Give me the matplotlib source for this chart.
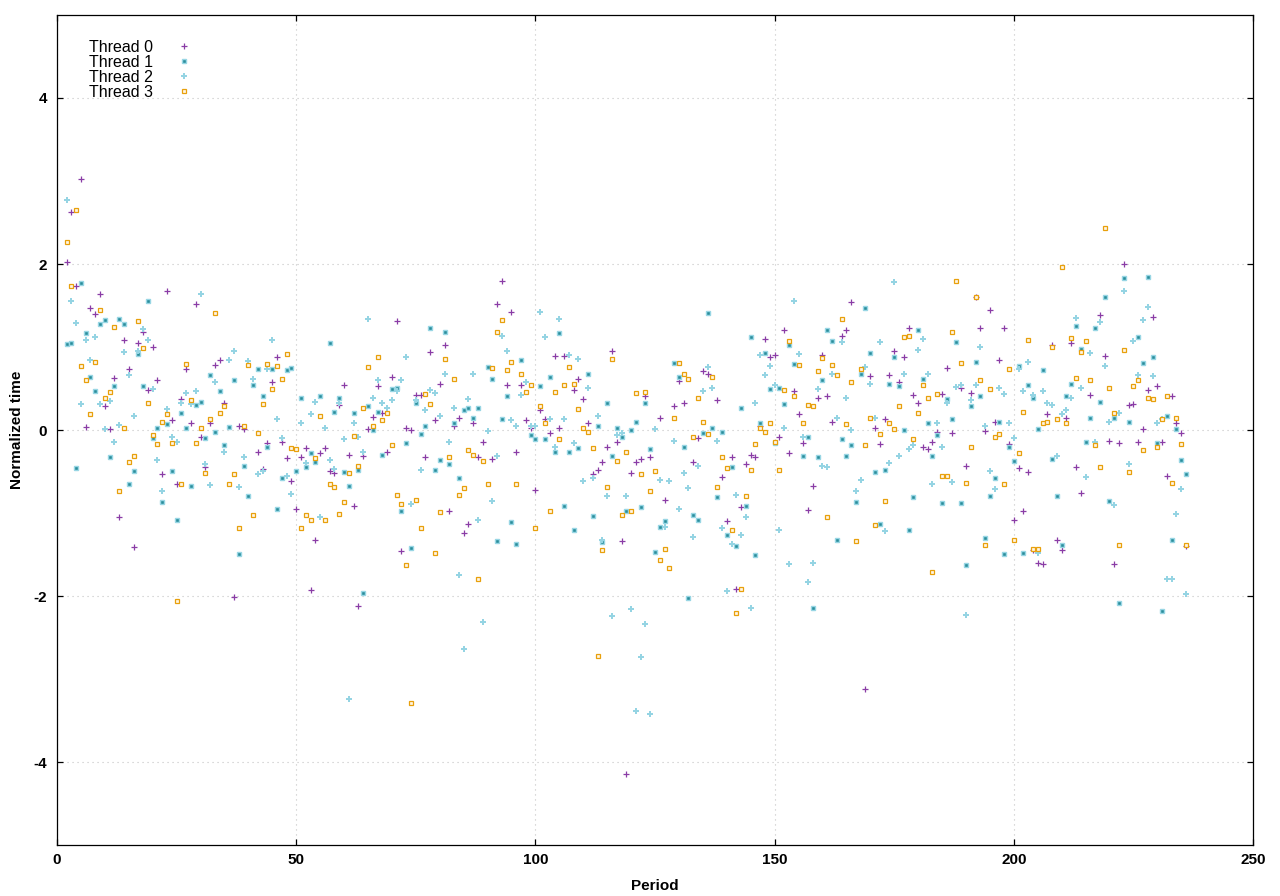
import numpy as np
import matplotlib
matplotlib.use("Agg")
import matplotlib.pyplot as plt

nan = np.nan

# ---------------- data ----------------
periods = list(range(2, 237))
thread_labels = ["Thread 0", "Thread 1", "Thread 2", "Thread 3"]

thread0 = [
    2.03, 2.63, 1.73, 3.03, 0.04, 1.47, 1.40, 1.64, 0.29, 0.01,
    0.63, -1.05, 1.09, 0.74, -1.41, 1.05, 1.18, 0.48, 1.00, 0.60,
    -0.53, 1.67, 0.12, -0.65, 0.37, 0.74, 0.08, 1.52, -0.08, -0.44,
    0.09, 0.78, 0.84, 0.33, nan, -2.01, 0.05, 0.01, nan, nan,
    -0.26, -0.47, -0.16, 0.58, 0.88, -0.15, -0.34, -0.62, -0.95, -0.33,
    -0.22, -1.93, -1.32, -0.28, -0.22, -0.50, -0.52, 0.30, 0.54, -0.30,
    -0.91, -2.12, -0.31, 0.01, 0.16, 0.53, 0.21, -0.27, 0.64, 1.31,
    -1.46, 0.02, -0.00, 0.42, 0.42, -0.33, 0.94, 0.12, 0.55, 1.02,
    -0.98, 0.05, 0.15, -1.24, -1.13, 0.09, -0.32, -0.14, nan, -0.35,
    1.52, 1.80, 0.54, 1.42, -0.26, 0.54, 0.12, 0.03, -0.72, 0.24,
    0.13, -0.04, 0.89, 0.02, 0.89, nan, 0.48, 0.61, 0.37, 0.09,
    -0.53, -0.48, -0.39, -0.21, 0.95, -0.14, -1.34, -4.15, -0.52, -0.38,
    -0.35, 0.41, -0.33, nan, 0.14, -0.84, nan, 0.29, 0.59, 0.33,
    nan, -0.38, -0.10, 0.71, 0.67, nan, 0.36, -0.57, -1.10, -0.33,
    -1.91, -0.93, -0.41, -0.30, -0.32, 0.05, 1.10, 0.88, 0.90, -0.08,
    1.20, -0.28, 0.47, 0.19, -0.16, -0.96, -0.68, 0.38, 0.90, 0.41,
    0.10, nan, 1.13, 1.20, 1.54, nan, nan, -3.12, 0.65, 0.02,
    -0.17, 0.13, 0.66, 0.95, 0.58, 0.88, 1.23, 0.42, 0.32, -0.21,
    -0.23, -0.15, -0.03, 0.43, 0.75, -0.04, nan, 0.51, -0.43, 0.44,
    1.60, 1.23, -0.01, 1.45, 0.10, 0.84, 1.23, -0.17, -1.09, -0.46,
    -0.97, -0.51, -1.45, -1.60, -1.61, 0.19, 1.02, -1.32, -1.45, 0.15,
    1.05, -0.44, -0.76, nan, 0.42, nan, 1.39, 0.89, -0.13, -1.62,
    -0.16, 2.00, 0.30, 0.31, -0.15, 0.01, 0.48, 1.36, 0.53, -0.14,
    -0.56, 0.41, 0.08, -0.04, -1.40,
]

thread1 = [
    1.04, 1.05, -0.46, 1.77, 1.17, 0.64, 0.47, 1.28, 1.33, -0.32,
    0.53, 1.34, 1.28, -0.65, -0.50, 0.92, 0.53, 1.55, -0.10, 0.03,
    -0.87, 0.07, -0.49, -1.08, 0.20, 0.02, -0.68, 0.30, 0.34, -0.10,
    0.66, -0.03, 0.47, -0.18, 0.04, 0.60, -1.49, -0.43, -0.80, 0.54,
    0.73, 0.41, -0.21, 0.74, -0.95, -0.58, 0.72, 0.75, -0.50, 0.38,
    -0.45, -0.28, -0.38, 0.41, nan, 1.05, 0.22, 0.38, -0.51, -0.68,
    0.21, -0.48, -1.96, 0.29, -0.00, 0.22, -0.30, nan, 0.49, 0.51,
    -0.98, -0.16, -1.42, 0.32, -0.05, 0.05, 1.23, -0.48, -0.36, 1.18,
    -0.41, 0.08, -0.58, 0.24, 0.27, 0.15, 0.26, nan, 0.76, 0.61,
    -1.34, 0.13, 0.41, -1.11, -1.37, 0.84, nan, -0.06, -0.11, 0.53,
    -0.11, 0.64, -0.27, 1.17, -0.92, -0.27, -1.21, -0.22, nan, 0.68,
    -1.04, 0.05, -1.35, 0.33, -0.31, 0.02, -0.08, -0.97, -0.00, 0.10,
    -0.93, 0.33, -0.23, -1.47, -1.17, -1.10, nan, 0.81, 0.64, -0.21,
    -2.03, -1.02, -1.08, -0.04, 1.41, 0.03, -0.81, -0.02, -1.27, -0.44,
    -1.40, 0.26, -0.92, 1.12, -1.51, 0.08, 0.93, 0.49, -0.16, 0.51,
    0.31, 1.02, 0.80, nan, -0.31, -0.09, -2.14, -0.32, 0.60, 1.20,
    1.07, -1.33, -0.11, -0.31, -0.18, -0.87, 0.67, 1.47, 0.93, -0.51,
    -1.13, -0.48, 0.55, 0.88, 0.53, -0.00, -1.20, -0.81, 1.20, 0.61,
    0.08, -0.31, -0.06, -0.88, 0.37, 0.13, 1.06, -0.88, -1.63, 0.29,
    0.82, 0.41, -1.30, -0.80, -0.58, 0.10, -1.49, -0.21, -0.37, 0.77,
    -1.48, 0.54, 0.39, 0.01, 0.72, nan, -0.35, -0.80, -1.39, 0.41,
    0.56, 1.25, 0.98, -0.14, 0.14, 1.23, 0.34, 1.60, -0.86, 0.14,
    -2.08, 1.83, 0.10, nan, 1.12, 0.81, 1.84, 0.88, -0.16, -2.18,
    0.17, -1.32, 0.01, -0.36, -0.53,
]

thread2 = [
    2.77, 1.55, 1.29, 0.31, 1.09, 0.84, 1.12, 0.31, 0.01, 0.35,
    -0.14, 0.06, 0.94, 0.66, 0.17, 0.95, 1.22, 1.09, 0.49, -0.36,
    -0.74, 0.25, -0.08, -0.14, 0.33, 0.45, 0.31, 0.47, 1.64, -0.41,
    -0.66, 0.58, nan, -0.26, 0.84, 0.95, -0.69, -0.32, 0.83, 0.62,
    -0.53, -0.50, 0.73, 1.08, 0.13, -0.10, -0.55, -0.77, nan, 0.08,
    -0.40, 0.19, 0.34, -1.05, 0.03, -0.36, -0.47, 0.32, -0.11, -3.24,
    0.09, -0.09, -0.27, 1.34, 0.38, 0.60, 0.32, 0.26, 0.36, 0.47,
    0.60, 0.88, -0.89, 0.36, -0.48, 0.24, 0.48, 0.44, 0.17, 0.67,
    -0.15, 0.26, -1.75, -2.64, 0.37, 0.68, -1.08, -2.31, -0.01, -0.85,
    -0.31, 1.13, 0.95, 0.12, 0.05, 0.42, 0.58, 0.05, 0.05, 1.42,
    1.12, 0.13, -0.20, 1.34, 0.13, 0.90, -0.16, 0.85, -0.62, 0.51,
    -0.58, 0.17, -1.32, -0.80, -2.24, -0.06, -0.04, -0.80, -2.16, -3.39,
    -2.73, -2.34, -3.42, 0.01, -0.60, -1.17, -0.62, -0.13, -0.95, -0.52,
    -0.70, -1.29, -0.43, 0.47, 0.76, 0.51, -0.13, -1.18, -1.94, -1.37,
    -0.78, -1.27, -1.05, -2.14, 0.32, 0.90, 0.66, 0.77, 0.54, -1.21,
    0.03, -1.61, 1.55, 0.92, -0.08, -1.83, -1.60, 0.49, -0.43, -0.45,
    0.67, 0.14, 1.06, 0.39, -0.00, -0.74, -0.60, 0.76, 0.56, 0.14,
    1.06, -1.22, -0.40, 1.78, -0.31, 0.67, -0.23, -0.18, 0.96, 1.10,
    0.67, -0.65, 0.09, -0.20, 0.32, -0.63, 0.52, 0.54, -2.23, 0.36,
    0.54, 1.00, 0.05, -0.49, -0.71, 0.51, 0.43, 0.08, -0.10, 0.73,
    0.47, 0.82, 0.42, -1.48, 0.47, 0.32, 0.30, -0.31, 0.19, 0.24,
    0.39, 1.35, 0.50, -0.57, 0.93, -0.14, 1.30, 0.77, 0.10, -0.90,
    0.21, 1.68, -0.41, 1.07, 0.66, 1.32, 1.48, 0.65, 0.08, 0.13,
    -1.80, -1.80, -1.01, -0.71, -1.97,
]

thread3 = [
    2.27, 1.74, 2.65, 0.77, 0.60, 0.19, 0.82, 1.45, 0.38, 0.46,
    1.24, -0.73, 0.03, -0.39, -0.31, 1.31, 0.99, 0.32, -0.06, -0.17,
    0.10, 0.19, -0.16, -2.06, -0.65, 0.79, 0.36, -0.16, 0.03, -0.52,
    0.13, 1.41, 0.20, 0.29, -0.65, -0.53, -1.18, 0.05, 0.78, -1.03,
    -0.04, 0.31, 0.79, 0.49, 0.77, 0.61, 0.91, -0.22, -0.23, -1.18,
    -1.03, -1.08, -0.34, 0.17, -1.08, -0.65, -0.69, -1.01, -0.87, -0.52,
    -0.07, -0.43, 0.26, 0.76, 0.05, 0.88, 0.12, 0.21, -0.18, -0.78,
    -0.89, -1.63, -3.29, -0.84, -1.18, 0.43, 0.31, -1.48, -0.99, 0.85,
    -0.32, 0.61, -0.78, -0.70, -0.24, -0.30, -1.80, -0.37, -0.65, 0.75,
    1.18, 1.32, 0.72, 0.82, -0.65, 0.68, 0.46, 0.54, -1.18, 0.29,
    0.09, -0.97, 0.46, -0.11, 0.54, 0.76, 0.55, 0.25, 0.02, -0.03,
    -0.22, -2.72, -1.45, -0.69, 0.85, -0.37, -1.02, -0.26, -0.98, 0.44,
    -0.53, 0.46, -0.74, -0.50, -1.57, -1.43, -1.66, 0.15, 0.81, 0.67,
    0.61, -0.09, 0.38, 0.10, -0.05, 0.64, -0.69, -0.32, -0.46, -1.20,
    -2.21, -1.91, -0.79, -0.48, -0.17, 0.02, -0.03, 0.09, -0.15, -0.48,
    0.48, 1.07, 0.41, 0.78, 0.08, 0.30, 0.29, 0.71, 0.87, -1.05,
    0.78, 0.66, 1.34, 0.07, 0.58, -1.34, 0.73, -0.18, 0.15, -1.15,
    -0.05, -0.85, 0.08, 0.01, 0.29, 1.12, 1.13, -0.11, 0.21, 0.54,
    0.39, -1.71, 0.43, -0.56, -0.55, 1.18, 1.79, 0.81, -0.64, -0.21,
    1.60, 0.60, -1.39, 0.49, -0.08, -0.05, -0.65, 0.73, -1.33, -0.28,
    0.22, 1.08, -1.43, -1.43, 0.08, 0.10, 1.00, 0.13, 1.96, 0.08,
    1.11, 0.63, 0.94, 1.07, 0.60, -0.18, -0.44, 2.43, 0.50, 0.20,
    -1.38, 0.96, -0.51, 0.53, 0.60, -0.24, 0.38, 0.37, -0.20, 0.13,
    0.41, -0.64, 0.14, -0.17, -1.38,
]

xticks = [0, 50, 100, 150, 200, 250]
yticks = [-4, -2, 0, 2, 4]
x_label = "Period"
y_label = "Normalized time"

# ---------------- figure ----------------
plt.rcParams['font.family'] = ['Liberation Sans', 'DejaVu Sans']
plt.rcParams['axes.unicode_minus'] = False
W, H = 1280, 896
fig = plt.figure(figsize=(W / 100, H / 100), dpi=100)
L, R, T, B = 57, 1253, 15, 845
ax = fig.add_axes([L / W, 1 - B / H, (R - L) / W, (B - T) / H])

styles = [
    dict(marker='+', ms=4.5, mew=0.9, color='#8a3ca6'),
    dict(marker='s', ms=3.0, mew=1.0, mfc='#2a8d9b', mec='#98d6e4'),
    dict(marker='P', ms=4.2, mew=0.0, mfc='#95d4e3', mec='#95d4e3'),
    dict(marker='s', ms=3.4, mew=0.9, mfc='#fff6e6', mec='#e8a00c'),
]
series = [thread0, thread1, thread2, thread3]
handles = []
for vals, lab, st in zip(series, thread_labels, styles):
    h, = ax.plot(periods, vals, ls='none', label=lab, zorder=3, **st)
    handles.append(h)

ax.set_xlim(0, 250)
ax.set_ylim(-5, 5)
ax.set_xticks(xticks)
ax.set_yticks(yticks)
ax.grid(True, color='#c4c4c4', lw=0.8, ls=(0, (1, 3.5)), zorder=0)
ax.tick_params(direction='in', length=4.5, width=0.9, top=True, right=True,
               labelsize=11)
ax.tick_params(axis='x', pad=6)
ax.tick_params(axis='y', pad=7)
for lbl in ax.get_xticklabels() + ax.get_yticklabels():
    lbl.set_fontweight('bold')
for sp in ax.spines.values():
    sp.set_linewidth(0.9)

fig.text(655 / W, 1 - 886 / H, x_label, ha='center', va='center',
         fontsize=11, fontweight='bold')
fig.text(17 / W, 1 - 430 / H, y_label, ha='center', va='center',
         rotation=90, fontsize=11, fontweight='bold')

leg = ax.legend(handles=handles, loc='upper left',
                bbox_to_anchor=(89 / W, 1 - 40 / H),
                bbox_transform=fig.transFigure,
                markerfirst=False, frameon=False, fontsize=11.5,
                labelspacing=0.0, handlelength=1.0, handletextpad=1.45,
                borderpad=0, borderaxespad=0)

fig.savefig('out.png', dpi=100)
